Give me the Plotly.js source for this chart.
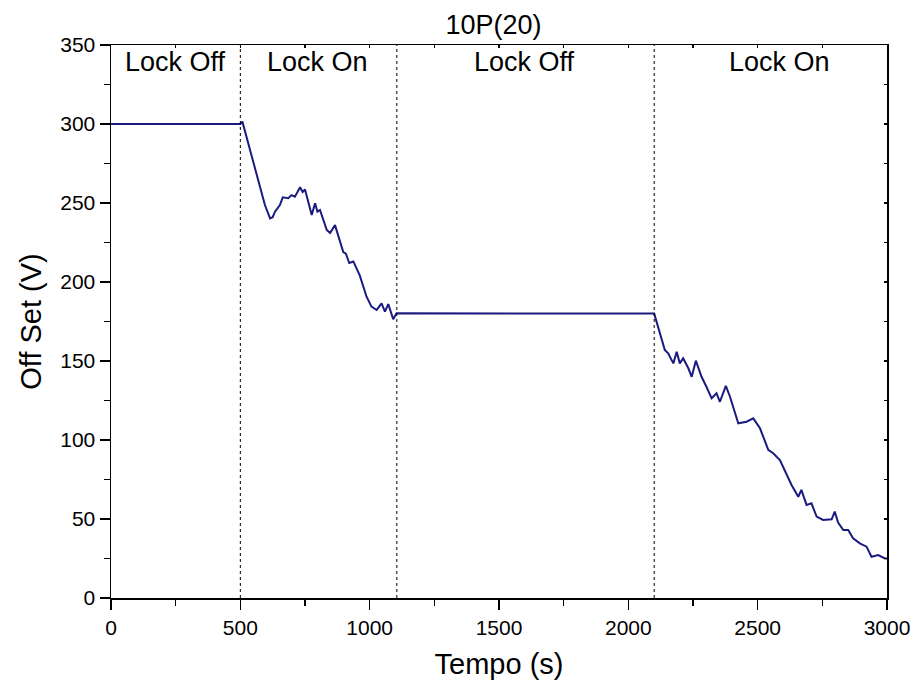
<!DOCTYPE html>
<html>
<head>
<meta charset="utf-8">
<script src="https://cdn.plot.ly/plotly-3.0.1.min.js"></script>
<style>html,body{margin:0;padding:0;background:#fff;}#chart{width:914px;height:688px;}</style>
</head>
<body>
<div id="chart"></div>
<script>
// Time (s) and offset (V)
const tempo = [0, 500, 508, 595, 615, 625, 634, 653, 664, 685, 698, 711, 731, 741, 750, 776, 789, 798, 808, 834, 847, 866, 898, 908, 921, 937, 962, 988, 1007, 1027, 1046, 1059, 1072, 1091, 1104,
  2100, 2141, 2154, 2174, 2187, 2199, 2212, 2232, 2245, 2261, 2283, 2302, 2322, 2341, 2354, 2377, 2393, 2425, 2457, 2483, 2509, 2541, 2560, 2586, 2612, 2631, 2657, 2669, 2689, 2708, 2728, 2753, 2786, 2798, 2811, 2831, 2850, 2869, 2895, 2921, 2940, 2966, 2992, 3000];
const offset = [300, 300, 301.5, 248.7, 240.3, 241, 244.5, 248.7, 253.6, 253, 255, 254, 260, 257, 258.6, 242.4, 249.8, 244.5, 245.6, 233, 231, 236, 219, 218, 212, 213, 204, 190.7, 184.4, 182.3, 186.5, 181.2, 186, 176.4, 180.2,
  180, 157, 154.9, 148.5, 155.9, 148.5, 151.7, 145.4, 140, 150.2, 140, 133.7, 126.4, 129.6, 124.2, 134.2, 127.4, 110.6, 111.6, 113.7, 107.4, 93.7, 91.6, 87.3, 77.8, 71.5, 64.1, 68.4, 58.9, 59.9, 51.5, 49.4, 49.8, 54.7, 47.7, 43, 43, 37.8, 34.6, 32.5, 26.1, 27.2, 25, 25];

// Lock boundaries and labels
const lockBounds = [500, 1105, 2100];
const lockLabels = ["Lock Off", "Lock On", "Lock Off", "Lock On"];
const lockLabelX = [250, 797, 1600, 2585];
const lockLabelY = 339;

const font = "Liberation Sans, Arial, sans-serif";

const trace = {
  x: tempo, y: offset, type: 'scatter', mode: 'lines',
  line: {color: '#1a1a80', width: 2},
  hoverinfo: 'skip', showlegend: false
};

const shapes = lockBounds.map(b => ({
  type: 'line', xref: 'x', yref: 'paper', x0: b, x1: b, y0: 0, y1: 1,
  line: {color: '#000', width: 1, dash: 'dot'}
}));

const annotations = lockLabels.map((t, i) => ({
  x: lockLabelX[i], y: lockLabelY, xref: 'x', yref: 'y', text: t,
  showarrow: false, font: {family: font, size: 27, color: '#000'}
}));

const axisCommon = {
  showgrid: false, zeroline: false, showline: true, linecolor: '#000', linewidth: 1.5,
  mirror: true, ticks: 'outside', ticklen: 10, tickwidth: 1.5, tickcolor: '#000',
  tickfont: {family: font, size: 21, color: '#000'}
};

const layout = {
  width: 914, height: 688,
  margin: {l: 111, r: 27, t: 45, b: 90},
  paper_bgcolor: '#fff', plot_bgcolor: '#fff',
  title: {text: '10P(20)', font: {family: font, size: 27, color: '#000'}, x: 0.493, xref: 'paper', xanchor: 'center', y: 0.9637, yanchor: 'middle'},
  xaxis: Object.assign({}, axisCommon, {
    range: [0, 3000], tick0: 0, dtick: 500,
    minor: {dtick: 250, ticks: 'outside', ticklen: 6, tickwidth: 1.5, tickcolor: '#000', showgrid: false},
    title: {text: 'Tempo (s)', font: {family: font, size: 29, color: '#000'}, standoff: 16}
  }),
  yaxis: Object.assign({}, axisCommon, {
    range: [0, 350], tick0: 0, dtick: 50,
    minor: {dtick: 25, ticks: 'outside', ticklen: 6, tickwidth: 1.5, tickcolor: '#000', showgrid: false},
    title: {text: 'Off Set (V)', font: {family: font, size: 29, color: '#000'}, standoff: 10}
  }),
  xaxis2: {
    overlaying: 'x', matches: 'x', side: 'top', range: [0, 3000], tick0: 0, dtick: 250,
    showgrid: false, zeroline: false, showline: false, ticks: 'inside', ticklen: 3,
    tickwidth: 1.5, tickcolor: '#000', showticklabels: false
  },
  yaxis2: {
    overlaying: 'y', matches: 'y', side: 'right', range: [0, 350], tick0: 0, dtick: 25,
    showgrid: false, zeroline: false, showline: false, ticks: 'inside', ticklen: 3,
    tickwidth: 1.5, tickcolor: '#000', showticklabels: false
  },
  shapes: shapes,
  annotations: annotations
};

const ghost = {x: [], y: [], xaxis: 'x2', yaxis: 'y2', type: 'scatter', mode: 'lines', showlegend: false, hoverinfo: 'skip'};

Plotly.newPlot('chart', [trace, ghost], layout, {displayModeBar: false, staticPlot: true});
</script>
</body>
</html>
